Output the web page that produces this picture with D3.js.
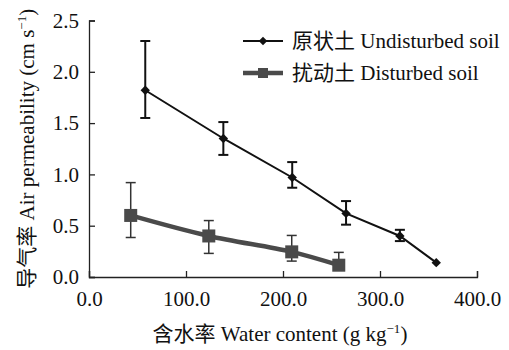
<!DOCTYPE html>
<html>
<head>
<meta charset="utf-8">
<script src="https://cdn.jsdelivr.net/npm/d3@7"></script>
<style>
  body { margin: 0; background: #fff; }
  text { font-family: "Liberation Serif", "Noto Sans CJK SC", serif; fill: #111; }
</style>
</head>
<body>
<div id="chart"></div>
<script>
// Undisturbed soil (原状土)
const undistX = [58, 138.5, 209.5, 265, 320.5, 358];
const undistY = [1.82, 1.35, 0.97, 0.62, 0.40, 0.14];
const undistHi = [2.30, 1.51, 1.12, 0.74, 0.46, null];
const undistLo = [1.55, 1.19, 0.87, 0.51, 0.35, null];

// Disturbed soil (扰动土)
const distX = [43, 123.5, 209, 257.5];
const distY = [0.60, 0.40, 0.245, 0.115];
const distHi = [0.92, 0.55, 0.405, 0.24];
const distLo = [0.385, 0.23, 0.155, 0.10];

const xTicks = [0, 100, 200, 300, 400];
const yTicks = [0, 0.5, 1.0, 1.5, 2.0, 2.5];

const width = 509, height = 350;
const margin = { top: 20.5, right: 32, bottom: 73, left: 89 };
const innerW = width - margin.left - margin.right;
const innerH = height - margin.top - margin.bottom;

const svg = d3.select('#chart').append('svg')
    .attr('width', width)
    .attr('height', height);

const chart = svg.append('g')
    .attr('transform', `translate(${margin.left}, ${margin.top})`);

const xScale = d3.scaleLinear().domain([0, 400]).range([0, innerW]);
const yScale = d3.scaleLinear().domain([0, 2.5]).range([innerH, 0]);

// axes, ticks pointing inward
const xAxis = chart.append('g')
    .attr('transform', `translate(0, ${innerH})`)
    .call(d3.axisTop(xScale).tickValues(xTicks).tickSize(6).tickFormat(d3.format('.1f')));
xAxis.selectAll('text')
    .attr('y', 29)
    .attr('dy', 0)
    .attr('font-size', 21)
    .attr('font-family', '"Liberation Serif", serif');

const yAxis = chart.append('g')
    .call(d3.axisRight(yScale).tickValues(yTicks).tickSize(6).tickFormat(d3.format('.1f')));
yAxis.selectAll('text')
    .attr('x', -10)
    .attr('text-anchor', 'end')
    .attr('font-size', 21)
    .attr('font-family', '"Liberation Serif", serif');

[xAxis, yAxis].forEach(a => {
    a.select('.domain').attr('stroke', '#222').attr('stroke-width', 1.3);
    a.selectAll('line').attr('stroke', '#222').attr('stroke-width', 1.3);
    a.selectAll('text').attr('fill', '#111');
});

// error bars
function errorBars(xs, ys, hi, lo, color, w) {
    const g = chart.append('g').attr('stroke', color).attr('stroke-width', w);
    xs.forEach((x, i) => {
        if (hi[i] == null) return;
        const cx = xScale(x);
        g.append('line').attr('x1', cx).attr('x2', cx)
            .attr('y1', yScale(hi[i])).attr('y2', yScale(lo[i]));
        g.append('line').attr('x1', cx - 5).attr('x2', cx + 5)
            .attr('y1', yScale(hi[i])).attr('y2', yScale(hi[i]));
        g.append('line').attr('x1', cx - 5).attr('x2', cx + 5)
            .attr('y1', yScale(lo[i])).attr('y2', yScale(lo[i]));
    });
}

errorBars(undistX, undistY, undistHi, undistLo, '#111', 2);
errorBars(distX, distY, distHi, distLo, '#333', 1.5);

// disturbed line + squares
const distPts = distX.map((x, i) => [x, distY[i]]);
chart.append('path')
    .datum(distPts)
    .attr('fill', 'none')
    .attr('stroke', '#4a4a4a')
    .attr('stroke-width', 4.5)
    .attr('d', d3.line()
        .curve(d3.curveCatmullRom)
        .x(d => xScale(d[0]))
        .y(d => yScale(d[1])));
chart.selectAll('.sq')
    .data(distPts)
    .enter().append('rect')
    .attr('x', d => xScale(d[0]) - 6.5)
    .attr('y', d => yScale(d[1]) - 6.5)
    .attr('width', 13)
    .attr('height', 13)
    .attr('fill', '#4a4a4a');

// undisturbed line + diamonds
const undistPts = undistX.map((x, i) => [x, undistY[i]]);
chart.append('path')
    .datum(undistPts)
    .attr('fill', 'none')
    .attr('stroke', '#111')
    .attr('stroke-width', 2)
    .attr('d', d3.line()
        .x(d => xScale(d[0]))
        .y(d => yScale(d[1])));
const diamond = d3.symbol().type(d3.symbolSquare).size(44);
chart.selectAll('.dm')
    .data(undistPts)
    .enter().append('path')
    .attr('d', diamond)
    .attr('transform', d => `translate(${xScale(d[0])}, ${yScale(d[1])}) rotate(45)`)
    .attr('fill', '#111');

// legend
const legend = svg.append('g');
legend.append('line').attr('x1', 243).attr('x2', 283).attr('y1', 41).attr('y2', 41)
    .attr('stroke', '#111').attr('stroke-width', 2);
legend.append('path').attr('d', d3.symbol().type(d3.symbolSquare).size(36))
    .attr('transform', 'translate(263, 41) rotate(45)').attr('fill', '#111');
legend.append('text').attr('x', 292).attr('y', 48).attr('font-size', 21)
    .text('原状土 Undisturbed soil');

legend.append('line').attr('x1', 243).attr('x2', 283).attr('y1', 73).attr('y2', 73)
    .attr('stroke', '#4a4a4a').attr('stroke-width', 4.5);
legend.append('rect').attr('x', 258).attr('y', 68).attr('width', 10).attr('height', 10)
    .attr('fill', '#4a4a4a');
legend.append('text').attr('x', 292).attr('y', 80).attr('font-size', 21)
    .text('扰动土 Disturbed soil');

// axis titles
const xt = svg.append('text')
    .attr('x', margin.left + innerW / 2 - 3)
    .attr('y', 341)
    .attr('text-anchor', 'middle')
    .attr('font-size', 21);
xt.append('tspan').text('含水率 Water content (g kg');
xt.append('tspan').attr('font-size', 13).attr('dy', -8).text('−1');
xt.append('tspan').attr('dy', 8).text(')');

const yt = svg.append('text')
    .attr('transform', `translate(34, ${margin.top + innerH / 2}) rotate(-90)`)
    .attr('text-anchor', 'middle')
    .attr('font-size', 21);
yt.append('tspan').text('导气率 Air permeability (cm s');
yt.append('tspan').attr('font-size', 13).attr('dy', -8).text('−1');
yt.append('tspan').attr('dy', 8).text(')');
</script>
</body>
</html>
